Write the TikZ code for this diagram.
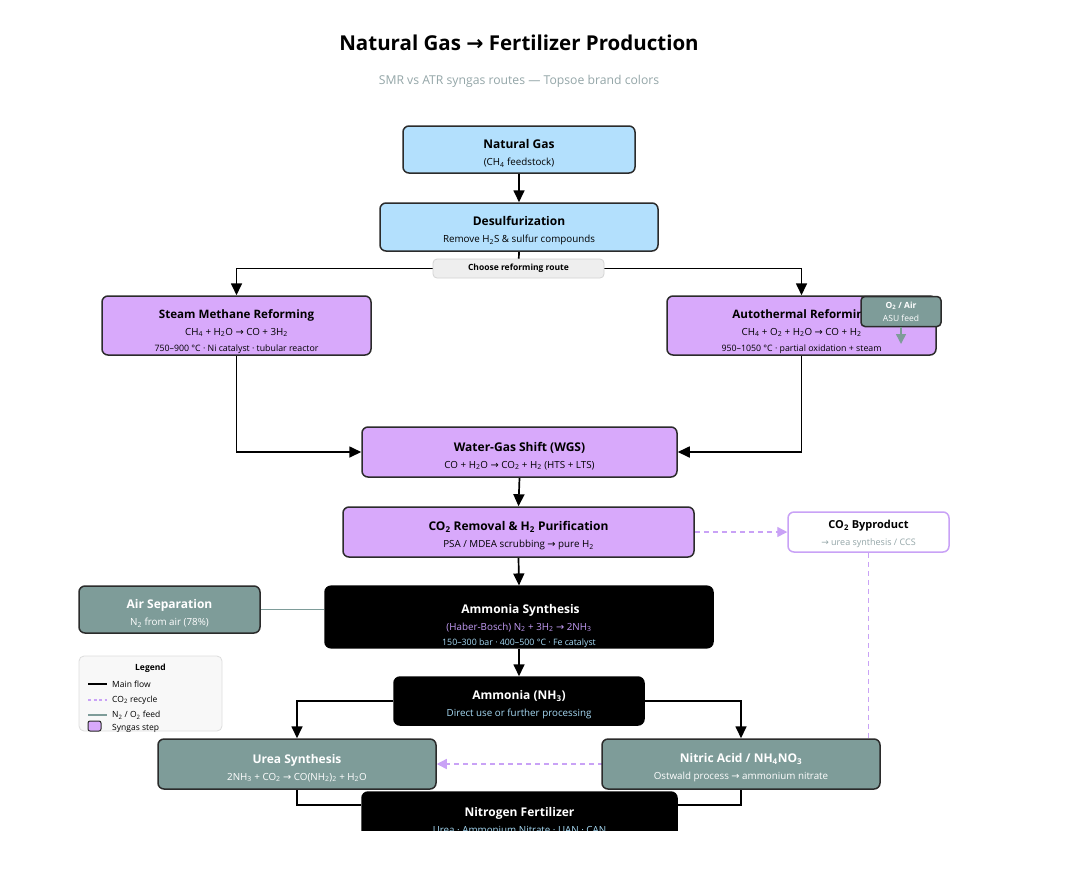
\documentclass[tikz,border=0pt]{standalone}
\usepackage{fontspec}
\setmainfont{Open Sans}
\newfontfamily\arrowfont{DejaVu Sans}
\usetikzlibrary{positioning, arrows.meta}
\definecolor{gasblue}{HTML}{B3E0FD}
\definecolor{syngas}{HTML}{D8A9FB}
\definecolor{feedteal}{HTML}{7E9C99}
\definecolor{boxborder}{HTML}{2B2B2B}
\definecolor{subgray}{HTML}{94A6A8}
\definecolor{recycle}{HTML}{C9A2F6}
\definecolor{nhpurple}{HTML}{C39CF6}
\definecolor{nhblue}{HTML}{A8DCF7}
\definecolor{routegray}{HTML}{EEEEEE}
\definecolor{routeborder}{HTML}{D4D4D4}
\definecolor{legendfill}{HTML}{F8F8F8}
\definecolor{legendborder}{HTML}{DDDDDD}
\newcommand{\toarrow}{{\arrowfont →}}
% the optional height pushes the text block down inside its box
\newcommand{\steptitle}[1][17pt]{\fontsize{12}{17}\selectfont\bfseries\rule{0pt}{#1}}
\newcommand{\stepsub}{\fontsize{9.8}{17}\selectfont}
\newcommand{\stepsmall}{\fontsize{8.8}{17}\selectfont}
\pgfdeclarelayer{bg}
\pgfsetlayers{bg,main}
\tikzset{
  stepbox/.style={draw=boxborder, line width=1.5pt, rounded corners=6pt,
    align=center, inner sep=0pt, font=\fontsize{10}{17}\selectfont},
  gasbox/.style={stepbox, fill=gasblue},
  synbox/.style={stepbox, fill=syngas},
  tealbox/.style={stepbox, fill=feedteal, text=white},
  darkbox/.style={stepbox, fill=black, draw=black, text=white},
  flowline/.style={line width=1.7pt, black},
  flowarrow/.style={flowline, -{Triangle[length=12pt, width=11pt]}},
  recycleline/.style={line width=1.4pt, recycle, dash pattern=on 5pt off 4pt},
  recyclearrow/.style={recycleline, -{Triangle[length=10pt, width=10pt]}},
  feedline/.style={line width=1.5pt, feedteal},
  legendtext/.style={anchor=west, inner sep=0pt, font=\fontsize{8.5}{10}\selectfont}
}

\begin{document}
\begin{tikzpicture}[x=1pt, y=-1pt]
  \useasboundingbox (0,0) rectangle (1081,887);
  \begin{pgfonlayer}{bg}
    \fill[white] (0,0) rectangle (1081,887);
  \end{pgfonlayer}

  % heading
  \node (title) at (519,43) {\fontsize{20.5}{24}\selectfont\bfseries Natural Gas {\arrowfont\bfseries →} Fertilizer Production};
  \node[text=subgray] (subtitle) at (519,81) {\fontsize{12.2}{15}\selectfont SMR vs ATR syngas routes — Topsoe brand colors};

  % feed preparation
  \node[gasbox, minimum width=232pt, minimum height=47pt] (natgas) at (519,149.5)
    {{\steptitle Natural Gas}\\{\stepsub (CH\textsubscript{4} feedstock)}};
  \node[gasbox, minimum width=278pt, minimum height=48pt] (desulf) at (519,227)
    {{\steptitle Desulfurization}\\{\stepsub Remove H\textsubscript{2}S \& sulfur compounds}};
  \node[fill=routegray, draw=routeborder, line width=0.8pt, rounded corners=4pt,
        minimum width=171pt, minimum height=19pt, inner sep=0pt,
        font=\fontsize{8.5}{10}\selectfont\bfseries] (route) at (518.5,268.5) {Choose reforming route};

  % reforming routes
  \node[synbox, minimum width=269pt, minimum height=59pt] (smr) at (236.5,325.5)
    {{\steptitle[21pt]\fontsize{11.6}{17}\selectfont Steam Methane Reforming}\\{\stepsub CH\textsubscript{4} + H\textsubscript{2}O \toarrow\ CO + 3H\textsubscript{2}}\\[-1pt]{\stepsmall 750–900 °C · Ni catalyst · tubular reactor}};
  \node[synbox, minimum width=269pt, minimum height=59pt] (atr) at (801.5,325.5)
    {{\steptitle[21pt]\fontsize{11.6}{17}\selectfont Autothermal Reforming}\\{\stepsub CH\textsubscript{4} + O\textsubscript{2} + H\textsubscript{2}O \toarrow\ CO + H\textsubscript{2}}\\[-1pt]{\stepsmall 950–1050 °C · partial oxidation + steam}};
  \node[tealbox, rounded corners=4pt, minimum width=80pt, minimum height=30pt,
        font=\fontsize{8.5}{13}\selectfont] (oxair) at (901,311.5)
    {{\bfseries O\textsubscript{2} / Air}\\ASU feed};
  \coordinate (oxtip) at (901,344);
  \draw[feedline, -{Triangle[length=10pt, width=10pt]}] (oxair.south) -- (oxtip);

  % shift and purification
  \node[synbox, minimum width=315pt, minimum height=50pt] (wgs) at (519.5,452)
    {{\steptitle Water-Gas Shift (WGS)}\\{\stepsub CO + H\textsubscript{2}O \toarrow\ CO\textsubscript{2} + H\textsubscript{2} (HTS + LTS)}};
  \node[synbox, minimum width=351pt, minimum height=50pt] (co2rem) at (518.5,532)
    {{\steptitle CO\textsubscript{2} Removal \& H\textsubscript{2} Purification}\\{\stepsub PSA / MDEA scrubbing \toarrow\ pure H\textsubscript{2}}};
  \node[stepbox, fill=white, draw=recycle, minimum width=161pt, minimum height=40pt] (co2by) at (868.5,532)
    {{\fontsize{11}{17}\selectfont\bfseries\rule{0pt}{12.5pt}CO\textsubscript{2} Byproduct}\\{\fontsize{9}{17}\selectfont\color{subgray}\toarrow\ urea synthesis / CCS}};

  % ammonia loop
  \node[tealbox, minimum width=181pt, minimum height=47pt] (airsep) at (169.5,609.5)
    {{\steptitle Air Separation}\\{\stepsub N\textsubscript{2} from air (78\%)}};
  \node[darkbox, minimum width=388pt, minimum height=60pt] (nhsyn) at (519,617)
    {{\steptitle[27pt] Ammonia Synthesis}\\{\stepsub\color{nhpurple}(Haber-Bosch) N\textsubscript{2} + 3H\textsubscript{2} \toarrow\ 2NH\textsubscript{3}}\\[-1.5pt]{\stepsmall\color{nhblue}150–300 bar · 400–500 °C · Fe catalyst}};
  \node[darkbox, minimum width=250pt, minimum height=48pt] (ammonia) at (519,701)
    {{\steptitle Ammonia (NH\textsubscript{3})}\\{\stepsub\color{nhblue}Direct use or further processing}};

  % products
  \node[tealbox, minimum width=278pt, minimum height=50pt] (urea) at (297,764)
    {{\steptitle Urea Synthesis}\\{\stepsub 2NH\textsubscript{3} + CO\textsubscript{2} \toarrow\ CO(NH\textsubscript{2})\textsubscript{2} + H\textsubscript{2}O}};
  \node[tealbox, minimum width=278pt, minimum height=50pt] (nitric) at (741,764)
    {{\steptitle Nitric Acid / NH\textsubscript{4}NO\textsubscript{3}}\\{\stepsub Ostwald process \toarrow\ ammonium nitrate}};
  \begin{scope}
    \clip (0,0) rectangle (1081,830);
    \node[darkbox, minimum width=315pt, minimum height=50pt] (fert) at (519.5,817)
      {{\steptitle Nitrogen Fertilizer}\\{\stepsub\color{nhblue}Urea · Ammonium Nitrate · UAN · CAN}};
  \end{scope}

  % legend
  \node[draw=legendborder, fill=legendfill, line width=0.8pt, rounded corners=5pt,
        minimum width=143pt, minimum height=75pt, inner sep=0pt] (legend) at (150.5,693.5) {};
  \node[inner sep=0pt, font=\fontsize{8.5}{10}\selectfont\bfseries] (legtitle) at (150.5,668) {Legend};
  \node[legendtext] (legmain) at (112,684) {Main flow};
  \node[legendtext] (legrecycle) at (112,700) {CO\textsubscript{2} recycle};
  \node[legendtext] (legfeed) at (112,715) {N\textsubscript{2} / O\textsubscript{2} feed};
  \node[legendtext] (legsyngas) at (112,728) {Syngas step};
  \draw[flowline, line width=1.3pt] (88,684) -- (107,684);
  \draw[recycleline, line width=1.2pt, dash pattern=on 3pt off 2.5pt] (88,700) -- (107,700);
  \draw[feedline, line width=1.3pt] (88,715) -- (107,715);
  \draw[fill=syngas, draw=boxborder, line width=1pt, rounded corners=2pt] (88,721) rectangle (101,731);

  % connectors
  \begin{pgfonlayer}{bg}
    \draw[flowarrow] (natgas.south) -- (desulf.north);
    \draw[flowline] (desulf.south) -- (route.center);
    \draw[flowarrow] (route.center) -| (smr.north);
    \draw[flowarrow] (route.center) -| (atr.north);
    \draw[flowarrow] (smr.south) |- (wgs.west);
    \draw[flowarrow] (atr.south) |- (wgs.east);
    \draw[flowarrow] (wgs.south) -- (co2rem.north);
    \draw[recyclearrow] (co2rem.east) -- (co2by.west);
    \draw[recyclearrow] (co2by.south) |- (urea.east);
    \draw[flowarrow] (co2rem.south) -- (nhsyn.north);
    \draw[feedline] (airsep.east) -- (airsep.east -| nhsyn.west);
    \draw[flowarrow] (nhsyn.south) -- (ammonia.north);
    \draw[flowarrow] (ammonia.west) -| (urea.north);
    \draw[flowarrow] (ammonia.east) -| (nitric.north);
    \draw[flowline] (urea.south) |- ([yshift=12pt]fert.west);
    \draw[flowline] (nitric.south) |- ([yshift=12pt]fert.east);
  \end{pgfonlayer}
\end{tikzpicture}
\end{document}
